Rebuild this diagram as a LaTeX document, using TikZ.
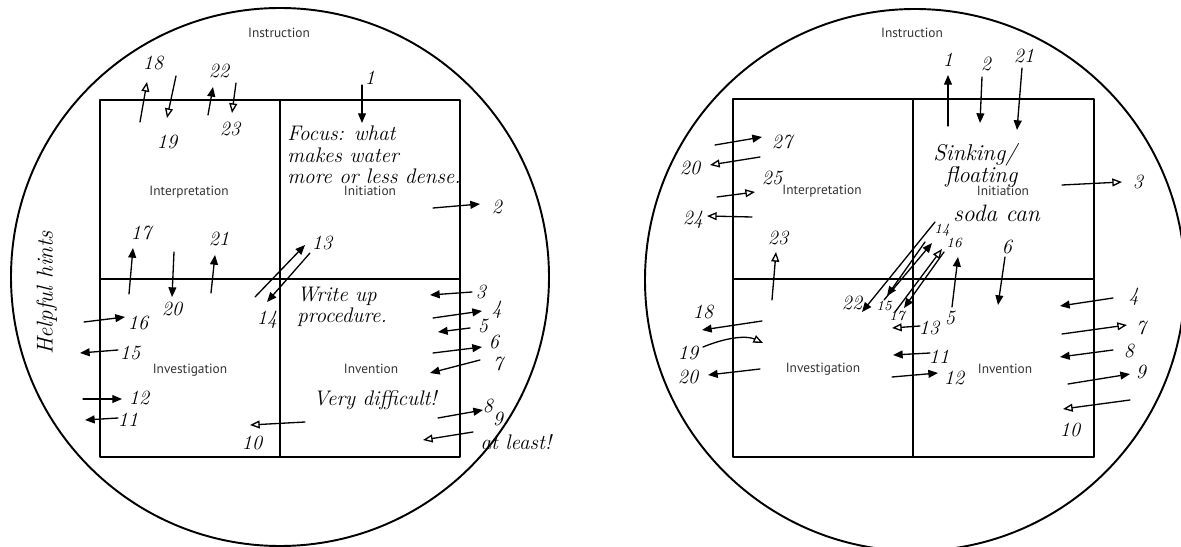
\documentclass[tikz,border=0pt]{standalone}
\usepackage{fontspec}
\newfontfamily\printfont{PT Sans}
\usetikzlibrary{arrows.meta}
\begin{document}
\begin{tikzpicture}[x=0.02cm,y=-0.02cm,line join=round,line cap=round,
	hand/.style={line width=0.75pt,-{Triangle[length=5.5pt,width=4.5pt]}},
	handopen/.style={line width=0.75pt,-{Triangle[open,length=5.5pt,width=4.5pt]}},
	num/.style={font=\itshape\fontsize{11.5}{12}\selectfont,inner sep=0pt},
	numsm/.style={font=\itshape\fontsize{8}{9}\selectfont,inner sep=0pt},
	note/.style={font=\itshape\fontsize{12}{12}\selectfont,inner sep=0pt,anchor=west},
	phase/.style={font=\printfont\fontsize{7.6}{8}\selectfont,text=black!80,inner sep=0pt}]
	\useasboundingbox (0,0) rectangle (1181,547);
	% left wheel
	\draw[line width=1.1pt] (280,277) ellipse[x radius=269,y radius=269];
	\draw[line width=1.1pt] (100,100) rectangle (460,457) (280,100)--(280,457) (100,279)--(460,279);
	\foreach \t/\x/\y [count=\i] in {Instruction/279/33,Interpretation/189/192,Initiation/370/191,Investigation/190/370,Invention/371/369}
	{\node[phase] (Lp\i) at (\x,\y) {\t};}
	\foreach \s/\xa/\ya/\xb/\yb/\xl/\yl/\n [count=\i] in {
		hand/362/85/362/123/370/78/1, hand/433/208/480/204/497/207/2,
		hand/472/292/430/295/481/292/3, hand/433/318/482/311/497/310/4,
		hand/470/328/438/332/483/326/5, hand/433/353/482/347/494/342/6,
		hand/480/360/430/373/498/364/7, hand/438/418/483/410/488/406/8,
		handopen/473/432/423/440/498/419/9, handopen/305/422/250/425/252/443/10,
		hand/118/418/85/420/128/420/11, hand/83/399/122/399/139/398/12,
		hand/255/297/305/245/322/243/13, hand/310/253/267/302/267/320/14,
		hand/118/350/80/353/130/353/15, hand/84/322/125/317/138/323/16,
		hand/129/294/133/248/141/233/17, handopen/140/122/147/82/153/63/18,
		handopen/176/76/167/118/167/142/19, hand/174/252/172/297/172/309/20,
		hand/211/293/215/255/219/239/21, hand/208/115/213/87/219/71/22,
		handopen/236/83/232/113/230/129/23}
	{\coordinate (La\i) at (\xa,\ya);
		\coordinate (Lb\i) at (\xb,\yb);
		\draw[\s] (La\i)--(Lb\i);
		\node[num] (Ln\i) at (\xl,\yl) {\n};}
	\node[note,anchor=north west,align=left] (focus) at (287,126) {Focus: what\\makes water\\more or less dense.};
	\node[note,anchor=north west,align=left] (write) at (297,287) {Write up\\procedure.};
	\node[note,anchor=center] (hard) at (375,400) {Very difficult!};
	\node[note,anchor=center] (least) at (516,442) {at least!};
	\node[note,anchor=center,rotate=90,font=\itshape\fontsize{13}{13}\selectfont] (hints) at (47,293) {Helpful hints};
	% right wheel
	\draw[line width=1.1pt] (915,280) ellipse[x radius=270,y radius=271];
	\draw[line width=1.1pt] (733,99) rectangle (1094,457) (913,99)--(913,457) (733,279)--(1094,279);
	\foreach \t/\x/\y [count=\i] in {Instruction/912/33,Interpretation/822/191,Initiation/1003/191,Investigation/823/369,Invention/1005/369}
	{\node[phase] (Rp\i) at (\x,\y) {\t};}
	\foreach \s/\xa/\ya/\xb/\yb/\xl/\yl/\n [count=\i] in {
		hand/948/126/948/75/948/60/1, hand/982/77/980/123/986/64/2,
		handopen/1062/185/1122/182/1138/182/3, hand/1113/298/1060/306/1134/297/4,
		hand/952/307/958/257/950/318/5, hand/1005/257/998/305/1007/247/6,
		handopen/1062/334/1127/325/1141/328/7, hand/1113/350/1060/357/1129/351/8,
		hand/1068/384/1130/374/1141/372/9, handopen/1130/400/1063/409/1070/430/10,
		hand/930/353/893/355/939/357/11, hand/892/377/938/373/954/378/12,
		handopen/920/326/892/328/929/328/13, hand/762/321/702/330/703/312/18,
		hand/760/369/708/375/688/377/20, hand/1022/68/1017/130/1024/56/21,
		hand/935/222/862/312/852/303/22, handopen/772/300/776/252/778/238/23,
		handopen/752/217/707/216/693/220/24, handopen/717/197/755/192/772/178/25,
		handopen/760/157/710/165/690/168/20, hand/715/145/762/137/782/142/27}
	{\coordinate (Ra\i) at (\xa,\ya);
		\coordinate (Rb\i) at (\xb,\yb);
		\draw[\s] (Ra\i)--(Rb\i);
		\node[num] (Rn\i) at (\xl,\yl) {\n};}
	\path (703,347) coordinate (Rc1) (763,343) coordinate (Rc2);
	\draw[handopen] (Rc1) .. controls (730,336) and (748,336) .. (Rc2);
	\node[num] (Rn19) at (688,353) {19};
	\foreach \s/\xa/\ya/\xb/\yb/\xl/\yl/\n [count=\i] in {
		hand/884/300/932/243/942/230/14, hand/925/242/887/296/884/306/15,
		handopen/895/312/942/249/954/243/16, hand/944/252/904/308/897/316/17}
	{\coordinate (Sa\i) at (\xa,\ya);
		\coordinate (Sb\i) at (\xb,\yb);
		\draw[\s] (Sa\i)--(Sb\i);
		\node[numsm] (Sn\i) at (\xl,\yl) {\n};}
	\node[note,font=\itshape\fontsize{13}{14}\selectfont] (sink) at (933,155) {Sinking/};
	\node[note,font=\itshape\fontsize{13}{14}\selectfont] (float) at (945,177) {floating};
	\node[note,font=\itshape\fontsize{13.5}{14}\selectfont] (soda) at (953,213) {soda can};
\end{tikzpicture}
\end{document}
